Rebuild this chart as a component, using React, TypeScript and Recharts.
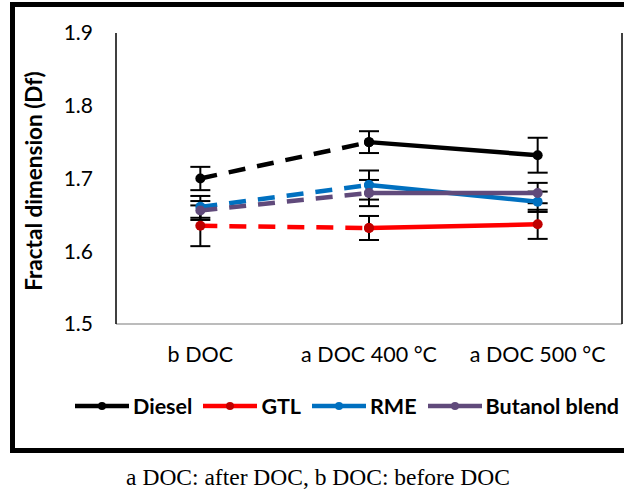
import { LineChart, Line, XAxis, YAxis, ErrorBar } from 'recharts';

const categories = ['b DOC', 'a DOC 400 °C', 'a DOC 500 °C'];
const yTicks = [1.5, 1.6, 1.7, 1.8, 1.9];

const dieselValues = [1.7, 1.75, 1.732];
const dieselErrors = [0.016, 0.015, 0.024];
const gtlValues = [1.635, 1.632, 1.637];
const gtlErrors = [0.028, 0.0165, 0.02];
const rmeValues = [1.661, 1.691, 1.668];
const rmeErrors = [0.015, 0.02, 0.014];
const butanolValues = [1.656, 1.68, 1.68];
const butanolErrors = [0.013, 0.018, 0.014];

const series = [
  { key: 'diesel', name: 'Diesel', values: dieselValues, errors: dieselErrors, color: '#000000', dot: '#000000' },
  { key: 'gtl', name: 'GTL', values: gtlValues, errors: gtlErrors, color: '#ff0000', dot: '#c00000' },
  { key: 'rme', name: 'RME', values: rmeValues, errors: rmeErrors, color: '#0070c0', dot: '#0070c0' },
  { key: 'butanol', name: 'Butanol blend', values: butanolValues, errors: butanolErrors, color: '#604a7b', dot: '#604a7b' },
];

// before DOC -> 400 °C is dashed, 400 °C -> 500 °C is solid
const rows = categories.map((cat, i) => {
  const row: Record<string, string | number | null> = { cat };
  series.forEach((s) => {
    row[s.key] = s.values[i];
    row[s.key + 'Err'] = s.errors[i];
    row[s.key + 'Dash'] = i < 2 ? s.values[i] : null;
    row[s.key + 'Solid'] = i > 0 ? s.values[i] : null;
  });
  return row;
});

const font = 'Lato, "Open Sans", sans-serif';

function LegendBox() {
  return (
    <div style={{ display: 'flex', alignItems: 'center', fontFamily: font, whiteSpace: 'nowrap', width: 580 }}>
      {series.map((s) => (
        <div key={s.key} style={{ display: 'flex', alignItems: 'center', marginRight: 11, flexShrink: 0 }}>
          <svg width={54} height={12} style={{ marginRight: 4 }}>
            <line x1={0} y1={6} x2={54} y2={6} stroke={s.color} strokeWidth={4.5} />
            <circle cx={27} cy={6} r={4} fill={s.dot} />
          </svg>
          <span style={{ fontWeight: 700, fontSize: 21.5, color: '#000', lineHeight: '26px' }}>{s.name}</span>
        </div>
      ))}
    </div>
  );
}

export default function App() {
  return (
    <div style={{ position: 'fixed', left: 0, top: 0, width: 624, height: 495, overflow: 'hidden', background: '#fff' }}>
      <div
        style={{
          position: 'absolute',
          left: 10,
          top: 2,
          width: 660,
          height: 451,
          border: '5px solid #000',
          boxSizing: 'border-box',
        }}
      />
      <div style={{ position: 'absolute', left: 0, top: 0 }}>
        <LineChart width={624} height={400} data={rows} margin={{ top: 33, right: 0, left: 36, bottom: 36 }}>
          <XAxis
            dataKey="cat"
            scale="band"
            axisLine={{ stroke: '#a6a6a6', strokeWidth: 1.5 }}
            tickLine={false}
            tickSize={0}
            tickMargin={23}
            height={40}
            tick={{ fontSize: 21.5, fill: '#000', fontFamily: font }}
          />
          <XAxis xAxisId="top" orientation="top" tick={false} tickLine={false} height={0} axisLine={{ stroke: '#8c8c8c', strokeWidth: 1.5 }} />
          <YAxis
            domain={[1.5, 1.9]}
            ticks={yTicks}
            tickFormatter={(v: number) => v.toFixed(1)}
            axisLine={{ stroke: '#000', strokeWidth: 1.5 }}
            tickLine={false}
            tickSize={0}
            tickMargin={23}
            width={80}
            tick={{ fontSize: 21, fill: '#000', fontFamily: font }}
            label={{
              content: () => (
                <text
                  x={33}
                  y={181}
                  transform="rotate(-90 33 181)"
                  textAnchor="middle"
                  dominantBaseline="central"
                  style={{ fontFamily: font, fontSize: 22.5, fontWeight: 700, fill: '#000' }}
                >
                  Fractal dimension (Df)
                </text>
              ),
            }}
          />
          <YAxis yAxisId="right" orientation="right" tick={false} tickLine={false} width={2} axisLine={{ stroke: '#000', strokeWidth: 1.5 }} />

          {series.map((s) => (
            <Line
              key={s.key + 'err'}
              dataKey={s.key}
              stroke="none"
              dot={false}
              activeDot={false}
              legendType="none"
              isAnimationActive={false}
            >
              <ErrorBar dataKey={s.key + 'Err'} width={10} strokeWidth={2} stroke="#000" direction="y" />
            </Line>
          ))}

          {series.flatMap((s) => [
            <Line
              key={s.key + 'dash'}
              dataKey={s.key + 'Dash'}
              stroke={s.color}
              strokeWidth={4.5}
              strokeDasharray="17 12"
              dot={{ r: 5, fill: s.dot, stroke: s.dot, strokeWidth: 0 }}
              activeDot={false}
              legendType="none"
              isAnimationActive={false}
            />,
            <Line
              key={s.key + 'solid'}
              dataKey={s.key + 'Solid'}
              stroke={s.color}
              strokeWidth={4.5}
              dot={{ r: 5, fill: s.dot, stroke: s.dot, strokeWidth: 0 }}
              activeDot={false}
              legendType="none"
              isAnimationActive={false}
            />,
          ])}
        </LineChart>
      </div>
      <div style={{ position: 'absolute', left: 75, top: 393 }}>
        <LegendBox />
      </div>
      <div
        style={{
          position: 'absolute',
          left: 0,
          width: 636,
          top: 464,
          textAlign: 'center',
          fontFamily: '"Liberation Serif", "Times New Roman", serif',
          fontSize: 23.5,
          color: '#000',
        }}
      >
        a DOC: after DOC, b DOC: before DOC
      </div>
    </div>
  );
}
